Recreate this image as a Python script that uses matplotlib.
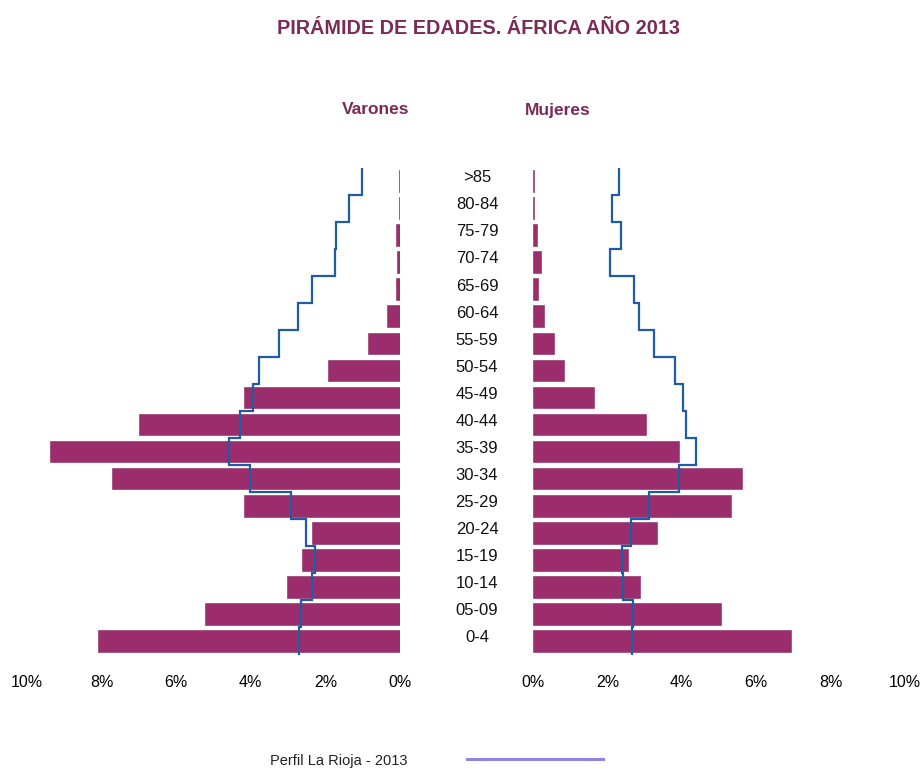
import numpy as np
import matplotlib
matplotlib.use("Agg")
import matplotlib.pyplot as plt
from matplotlib.transforms import blended_transform_factory

plt.rcParams['font.family'] = ['Liberation Sans', 'DejaVu Sans']

# Age groups, top to bottom
ages = [">85", "80-84", "75-79", "70-74", "65-69", "60-64", "55-59", "50-54",
        "45-49", "40-44", "35-39", "30-34", "25-29", "20-24", "15-19", "10-14",
        "05-09", "0-4"]
# Africa 2013 (% of total), top to bottom
male = [0.03, 0.03, 0.11, 0.09, 0.11, 0.36, 0.87, 1.92, 4.18, 7.01, 9.38,
        7.73, 4.18, 2.35, 2.62, 3.04, 5.23, 8.09]
female = [0.02, 0.02, 0.12, 0.21, 0.14, 0.29, 0.57, 0.82, 1.64, 3.04, 3.93,
          5.63, 5.32, 3.33, 2.56, 2.87, 5.05, 6.94]
# Perfil La Rioja 2013 (% of total), top to bottom
male_lr = [1.03, 1.36, 1.72, 1.75, 2.37, 2.74, 3.24, 3.77, 3.95, 4.29, 4.58,
           4.02, 2.92, 2.52, 2.28, 2.37, 2.65, 2.71]
female_lr = [2.31, 2.13, 2.37, 2.08, 2.71, 2.84, 3.26, 3.81, 4.03, 4.12, 4.38,
             3.92, 3.11, 2.63, 2.39, 2.41, 2.69, 2.66]
xticks = [0, 2, 4, 6, 8, 10]
xticklabels = ["0%", "2%", "4%", "6%", "8%", "10%"]

title = "PIRÁMIDE DE EDADES. ÁFRICA AÑO 2013"
legend_label = "Perfil La Rioja - 2013"

bar_color = "#9B2D6C"
line_color = "#1F5CA3"
title_color = "#7A2C57"

W, H = 922, 771
fig = plt.figure(figsize=(W / 100, H / 100), dpi=100)

bottom = 1 - 654.5 / H
height = (654.5 - 167.5) / H
axL = fig.add_axes([27 / W, bottom, 373 / W, height])
axR = fig.add_axes([533 / W, bottom, 372 / W, height])

n = len(ages)
y = np.arange(n)[::-1]  # top row gets highest y
edges = np.arange(n + 1) - 0.5

for ax, bars, line in ((axL, male, male_lr), (axR, female, female_lr)):
    ax.barh(y, bars, height=0.8, color=bar_color, edgecolor="#8A2860",
            linewidth=0.4, zorder=2)
    ax.stairs(np.array(line)[::-1], edges, orientation='horizontal',
              baseline=None, color=line_color, linewidth=1.6, zorder=3)
    ax.set_ylim(-0.5, n - 0.5)
    ax.set_xticks(xticks)
    ax.set_xticklabels(xticklabels, fontsize=11.5)
    ax.set_yticks([])
    ax.tick_params(axis='x', length=0, pad=15)
    for s in ax.spines.values():
        s.set_visible(False)

axL.set_xlim(10, 0)
axR.set_xlim(0, 10)

tr = blended_transform_factory(fig.transFigure, axR.transData)
for yy, lab in zip(y, ages):
    fig.text(477 / W, yy + 0.12, lab, transform=tr, ha='center', va='center',
             fontsize=12, color="#111111")

fig.text(478 / W, 1 - 28 / H, title, ha='center', va='center',
         fontsize=14.3, fontweight='bold', color=title_color)
fig.text(376 / W, 1 - 110 / H, "Varones", ha='center', va='center',
         fontsize=12.5, fontweight='bold', color=title_color)
fig.text(558 / W, 1 - 110 / H, "Mujeres", ha='center', va='center',
         fontsize=12.5, fontweight='bold', color=title_color)

fig.text(339 / W, 1 - 761 / H, legend_label, ha='center', va='center',
         fontsize=10.5, color="#222222")
fig.add_artist(plt.Line2D([467 / W, 603 / W], [1 - 759 / H, 1 - 759 / H],
                          transform=fig.transFigure, color="#8C84E6",
                          linewidth=2.2))

fig.savefig("out.png", dpi=100)
